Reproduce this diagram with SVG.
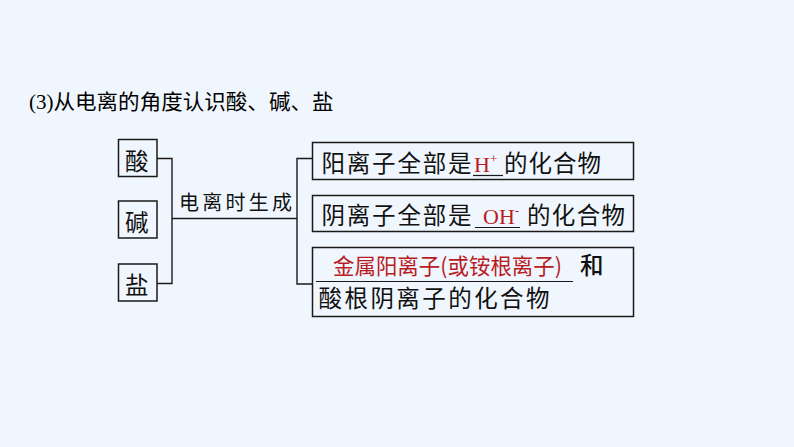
<svg xmlns="http://www.w3.org/2000/svg" width="794" height="447" viewBox="0 0 794 447">
<style>
.bg{fill:#f0f6fd}
.box{fill:none;stroke:#1a1a1a;stroke-width:1.5}
.ln{fill:none;stroke:#1a1a1a;stroke-width:1.4}
.ul{fill:none;stroke:#1a1a1a;stroke-width:1.2}
.t{font-family:"Noto Sans CJK SC","Noto Sans",sans-serif;font-size:23.5px;fill:#111}
.ts{font-family:"Noto Sans CJK SC",sans-serif;font-size:20px;fill:#111}
.red{font-family:"Liberation Serif",serif;font-size:22px;fill:#b81c22}
.redcjk{font-family:"Noto Sans CJK SC",sans-serif;font-size:22px;fill:#b81c22}
.title{font-family:"Noto Sans CJK SC",sans-serif;font-size:21px;fill:#000}
</style>
<rect class="bg" x="0" y="0" width="794" height="447"/>
<g id="title">
<text x="29" y="109" font-family="Liberation Serif,serif" font-size="21" fill="#000">(3)</text>
<text class="title" x="53.5" y="109" textLength="280" lengthAdjust="spacingAndGlyphs">从电离的角度认识酸、碱、盐</text>
</g>
<g id="connectors">
<path class="ln" d="M157,158.5 H172 V283.5 H157"/>
<path class="ln" d="M172,218.5 H297"/>
<path class="ln" d="M312.5,158.5 H297 V284 H312.5"/>
</g>
<g id="acid">
<rect class="box" x="118.5" y="139.5" width="38.5" height="37"/>
<text class="t" x="125" y="170" font-size="24">酸</text>
</g>
<g id="base">
<rect class="box" x="118.5" y="201" width="38.5" height="37"/>
<text class="t" x="125" y="231" font-size="24">碱</text>
</g>
<g id="salt">
<rect class="box" x="118.5" y="264" width="38.5" height="37"/>
<text class="t" x="125" y="294" font-size="24">盐</text>
</g>
<g id="label">
<text class="ts" x="179" y="210" textLength="113" lengthAdjust="spacing">电离时生成</text>
</g>
<g id="acid-def">
<rect class="box" x="312.5" y="142.5" width="321" height="37"/>
<text class="t" x="321.5" y="172" textLength="150" lengthAdjust="spacing">阳离子全部是</text>
<text class="red" x="474" y="172">H<tspan font-size="13" dy="-9">+</tspan></text>
<path class="ul" d="M473,175.5 H503"/>
<text class="t" x="504" y="172" textLength="97" lengthAdjust="spacing">的化合物</text>
</g>
<g id="base-def">
<rect class="box" x="312.5" y="195.5" width="321" height="36"/>
<text class="t" x="321.5" y="224" textLength="150" lengthAdjust="spacing">阴离子全部是</text>
<text class="red" x="483" y="224">OH<tspan font-size="13" dy="-9">-</tspan></text>
<path class="ul" d="M475,227.5 H520"/>
<text class="t" x="527" y="224" textLength="98" lengthAdjust="spacing">的化合物</text>
</g>
<g id="salt-def">
<rect class="box" x="312.5" y="247.5" width="321" height="69"/>
<text class="redcjk" x="333" y="274" textLength="229" lengthAdjust="spacingAndGlyphs">金属阳离子(或铵根离子)</text>
<path class="ul" d="M316,281.5 H573"/>
<text class="t" x="580" y="274" font-size="22" font-weight="500">和</text>
<text class="t" x="318.5" y="307" textLength="231" lengthAdjust="spacing">酸根阴离子的化合物</text>
</g>
</svg>
